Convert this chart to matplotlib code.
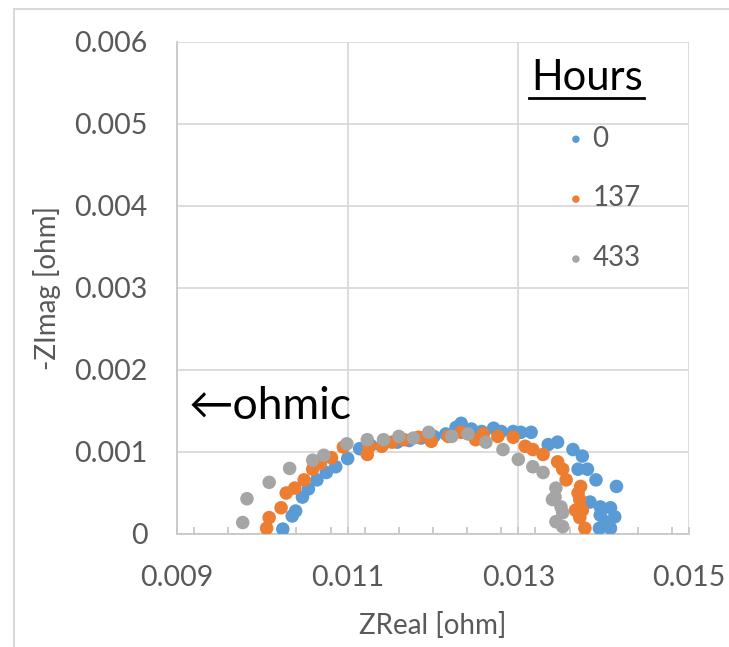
import matplotlib
matplotlib.use("Agg")
import matplotlib.pyplot as plt
from matplotlib.ticker import MultipleLocator
from matplotlib.lines import Line2D
from matplotlib.patches import Rectangle

plt.rcParams['font.family'] = ['Lato', 'DejaVu Sans']

# Datos (impedancia, ohm)
zreal_0 = [0.01024, 0.01035, 0.01039, 0.01047, 0.01054, 0.01064, 0.01075, 0.01086, 0.01100, 0.01114,
           0.01127, 0.01142, 0.01158, 0.01172, 0.01186, 0.01201, 0.01215, 0.01227, 0.01233, 0.01245,
           0.01257, 0.01271, 0.01280, 0.01294, 0.01303, 0.01315, 0.01335, 0.01346, 0.01364, 0.01375,
           0.01370, 0.01381, 0.01391, 0.01415, 0.01384, 0.01396, 0.01408, 0.01413, 0.01396, 0.01395,
           0.01408, 0.01402]
zimag_0 = [0.00006, 0.00022, 0.00028, 0.00045, 0.00055, 0.00066, 0.00075, 0.00082, 0.00092, 0.00104,
           0.00108, 0.00110, 0.00112, 0.00114, 0.00117, 0.00119, 0.00122, 0.00130, 0.00135, 0.00128,
           0.00125, 0.00129, 0.00125, 0.00125, 0.00124, 0.00124, 0.00109, 0.00112, 0.00103, 0.00095,
           0.00079, 0.00079, 0.00066, 0.00058, 0.00039, 0.00033, 0.00032, 0.00021, 0.00023, 0.00007,
           0.00007, 0.00015]

zreal_137 = [0.01005, 0.01008, 0.01022, 0.01028, 0.01038, 0.01049, 0.01059, 0.01068, 0.01081, 0.01095,
             0.01123, 0.01125, 0.01140, 0.01152, 0.01166, 0.01183, 0.01198, 0.01218, 0.01233, 0.01250,
             0.01259, 0.01276, 0.01294, 0.01308, 0.01317, 0.01329, 0.01346, 0.01352, 0.01356, 0.01373,
             0.01370, 0.01372, 0.01375, 0.01367, 0.01372, 0.01378]
zimag_137 = [0.00007, 0.00020, 0.00032, 0.00050, 0.00056, 0.00066, 0.00079, 0.00086, 0.00093, 0.00106,
             0.00097, 0.00107, 0.00107, 0.00112, 0.00115, 0.00118, 0.00113, 0.00119, 0.00124, 0.00115,
             0.00122, 0.00119, 0.00118, 0.00107, 0.00103, 0.00097, 0.00088, 0.00079, 0.00066, 0.00058,
             0.00050, 0.00042, 0.00029, 0.00029, 0.00020, 0.00007]

zreal_433 = [0.00977, 0.00982, 0.01008, 0.01032, 0.01059, 0.01072, 0.01099, 0.01123, 0.01142, 0.01160,
             0.01177, 0.01195, 0.01222, 0.01241, 0.01262, 0.01282, 0.01300, 0.01317, 0.01329, 0.01344,
             0.01343, 0.01340, 0.01350, 0.01352, 0.01344, 0.01352]
zimag_433 = [0.00014, 0.00043, 0.00063, 0.00080, 0.00090, 0.00096, 0.00110, 0.00115, 0.00115, 0.00119,
             0.00117, 0.00124, 0.00119, 0.00122, 0.00112, 0.00103, 0.00091, 0.00082, 0.00075, 0.00056,
             0.00045, 0.00042, 0.00033, 0.00026, 0.00015, 0.00009]

hours = ["0", "137", "433"]
colors = ["#5B9BD5", "#ED7D31", "#A5A5A5"]

xticks = [0.009, 0.011, 0.013, 0.015]
xtick_labels = ["0.009", "0.011", "0.013", "0.015"]
yticks = [0, 0.001, 0.002, 0.003, 0.004, 0.005, 0.006]
ytick_labels = ["0", "0.001", "0.002", "0.003", "0.004", "0.005", "0.006"]

W, H = 729, 647
fig = plt.figure(figsize=(W / 100, H / 100), dpi=100)
ax = fig.add_axes([177 / W, 113 / H, 512 / W, 492 / H])

# borde del área del gráfico (recortado a la derecha y abajo)
fig.add_artist(Rectangle((14 / W, -0.05), 1.1, (H - 9) / H + 0.05, transform=fig.transFigure,
                         fill=False, edgecolor='#D9D9D9', linewidth=1.5, clip_on=False))

series = [(zreal_0, zimag_0), (zreal_137, zimag_137), (zreal_433, zimag_433)]
for (zr, zi), c, h in zip(series, colors, hours):
    ax.scatter(zr, zi, s=95, color=c, edgecolors='none', label=h, zorder=3)

ax.set_xlim(0.009, 0.015)
ax.set_ylim(0, 0.006)
ax.set_xticks(xticks)
ax.set_xticklabels(xtick_labels)
ax.set_yticks(yticks)
ax.set_yticklabels(ytick_labels)
ax.xaxis.set_minor_locator(MultipleLocator(0.0004))

ax.grid(True, which='major', color='#D9D9D9', linewidth=1.3, zorder=0)
ax.set_axisbelow(True)
for s in ['top', 'right']:
    ax.spines[s].set_visible(False)
for s in ['left', 'bottom']:
    ax.spines[s].set_color('#C8C8C8')
    ax.spines[s].set_linewidth(1.3)

ax.tick_params(axis='x', which='both', direction='in', length=5, width=1.3,
               color='#C8C8C8', labelsize=20.5, labelcolor='#595959', pad=22)
ax.tick_params(axis='y', which='both', length=0, labelsize=20.5, labelcolor='#595959', pad=21)

ax.set_xlabel("ZReal [ohm]", fontsize=20, color='#595959', va='center')
ax.xaxis.set_label_coords(0.5, -0.185)
ax.set_ylabel("-ZImag [ohm]", fontsize=20, color='#595959', va='center')
ax.yaxis.set_label_coords(-0.254, 0.5)

ax.text(0.023, 0.26, "←ohmic", transform=ax.transAxes, fontsize=32,
        color='black', va='center', ha='left')

leg = ax.legend(loc='upper left', bbox_to_anchor=(0.714, 0.881), frameon=False,
                fontsize=20, markerscale=0.55, handlelength=0.6, handletextpad=0.3,
                labelspacing=1.22, labelcolor='#595959')

title = ax.text(0.691, 0.902, "Hours", transform=ax.transAxes, fontsize=30,
                color='black', va='baseline', ha='left')

# subrayado del título
fig.canvas.draw()
bb = title.get_window_extent()
base_y = ax.transAxes.transform((0, 0.902))[1] - 8
fig.add_artist(Line2D([(bb.x0 - 2) / W, (bb.x1 + 1) / W], [base_y / H, base_y / H],
                      color='black', linewidth=2))

fig.savefig("out.png", dpi=100)
